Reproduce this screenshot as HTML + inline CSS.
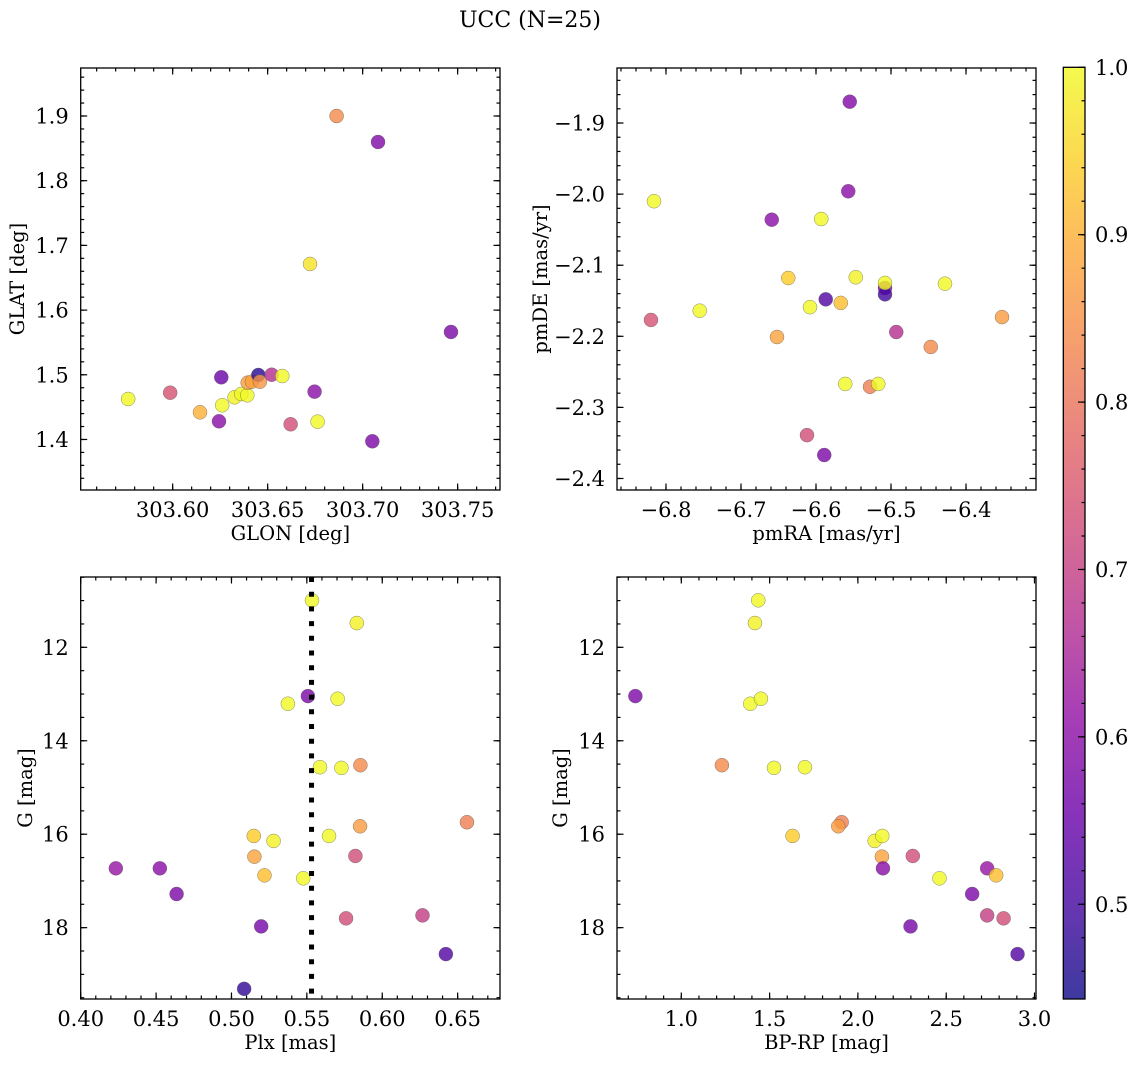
<!DOCTYPE html>
<html><head><meta charset="utf-8"><style>
html,body{margin:0;padding:0;background:#fff;}
svg{display:block;font-family:"DejaVu Serif","Liberation Serif",serif;}
</style></head><body>
<svg id="fig" width="1136" height="1067" viewBox="0 0 1136 1067" xmlns="http://www.w3.org/2000/svg">
<rect width="1136" height="1067" fill="#fff"/>
<text x="530" y="27" font-size="22" text-anchor="middle">UCC (N=25)</text>
</svg>
<script>
// ---- data ----
const glon = [303.5766,303.5987,303.6144,303.6256,303.6244,303.6261,303.6326,303.6361,303.6393,303.6395,303.6417,303.6451,303.6459,303.6521,303.6577,303.6747,303.6621,303.6763,303.7051,303.6863,303.7081,303.6723,303.7465];
const glat = [1.4626,1.4723,1.442,1.4961,1.4281,1.4529,1.4652,1.4703,1.4683,1.4878,1.4893,1.4997,1.4893,1.5001,1.4981,1.4739,1.4235,1.4275,1.3972,1.9,1.8598,1.6713,1.5662];
const probTL = [1.0,0.74,0.90,0.55,0.60,1.0,0.99,1.0,1.0,0.87,0.88,0.47,0.86,0.67,1.0,0.60,0.73,1.0,0.58,0.84,0.59,0.97,0.58];

const pmra = [-6.555,-6.557,-6.816,-6.659,-6.593,-6.637,-6.547,-6.508,-6.508,-6.508,-6.428,-6.587,-6.567,-6.608,-6.755,-6.820,-6.352,-6.652,-6.493,-6.447,-6.561,-6.528,-6.517,-6.612,-6.589];
const pmde = [-1.870,-1.996,-2.010,-2.036,-2.035,-2.118,-2.117,-2.132,-2.141,-2.125,-2.126,-2.148,-2.153,-2.159,-2.164,-2.177,-2.173,-2.201,-2.194,-2.215,-2.267,-2.271,-2.267,-2.339,-2.367];
const probTR = [0.59,0.60,1.0,0.60,1.0,0.94,0.99,0.58,0.50,1.0,1.0,0.52,0.92,1.0,1.0,0.74,0.87,0.88,0.67,0.84,1.0,0.82,1.0,0.73,0.58];

const plx = [0.5534,0.5831,0.5507,0.5374,0.5704,0.5587,0.5729,0.5855,0.6562,0.5853,0.5647,0.5148,0.5279,0.5152,0.5822,0.4233,0.4525,0.5219,0.5476,0.4636,0.5760,0.6267,0.5197,0.6422,0.5084];
const gmagBL = [10.994,11.480,13.044,13.208,13.101,14.566,14.580,14.523,15.744,15.830,16.037,16.037,16.144,16.480,16.466,16.730,16.730,16.880,16.944,17.280,17.801,17.737,17.973,18.566,19.309];
const probBL = [1.0,0.99,0.58,1.0,1.0,1.0,1.0,0.84,0.82,0.87,1.0,0.94,0.99,0.88,0.73,0.62,0.60,0.92,1.0,0.58,0.73,0.70,0.57,0.52,0.48];
const plxLine = [0.5531];

const bprp = [1.436,1.417,0.740,1.391,1.451,1.230,1.525,1.700,1.908,1.889,1.630,2.095,2.138,2.136,2.311,2.142,2.732,2.783,2.462,2.647,2.732,2.825,2.298,2.904];
const gmagBR = [10.994,11.48,13.044,13.208,13.101,14.523,14.58,14.566,15.744,15.83,16.037,16.144,16.037,16.48,16.466,16.73,16.73,16.88,16.944,17.28,17.737,17.801,17.973,18.566];
const probBR = [1.0,0.99,0.58,1.0,1.0,0.84,1.0,1.0,0.82,0.87,0.94,0.99,1.0,0.88,0.73,0.60,0.62,0.92,1.0,0.58,0.70,0.73,0.57,0.52];

const ticksTLx = [303.60,303.65,303.70,303.75];
const labelsTLx = ["303.60","303.65","303.70","303.75"];
const ticksTLy = [1.4,1.5,1.6,1.7,1.8,1.9];
const ticksTRx = [-6.8,-6.7,-6.6,-6.5,-6.4];
const ticksTRy = [-1.9,-2.0,-2.1,-2.2,-2.3,-2.4];
const ticksBLx = [0.40,0.45,0.50,0.55,0.60,0.65];
const ticksGy = [12,14,16,18];
const ticksBRx = [1.0,1.5,2.0,2.5,3.0];
const ticksCbar = [0.5,0.6,0.7,0.8,0.9,1.0];
const cmin = 0.4434, cmax = 1.0;

// ---- helpers ----
const NS = "http://www.w3.org/2000/svg";
const svg = document.getElementById('fig');
const TICKFS = 21, LABFS = 19.5;
function mk(tag, attrs, parent){
  const e = document.createElementNS(NS, tag);
  for (const k in attrs) e.setAttribute(k, attrs[k]);
  (parent||svg).appendChild(e);
  return e;
}
const plasmaStops = [[13,8,135],[65,4,157],[106,0,168],[143,13,164],[177,42,144],[204,71,120],[225,100,98],[242,132,75],[252,166,54],[252,206,37],[240,249,33]];
function plasmaT(t){
  t = Math.max(0,Math.min(1,t));
  const f = t*10, i = Math.min(9, Math.floor(f)), r = f-i;
  const a = plasmaStops[i], b = plasmaStops[i+1];
  return 'rgb('+a.map((x,k)=>Math.round(x+(b[k]-x)*r)).join(',')+')';
}
function plasma(v){ return plasmaT((v-cmin)/(cmax-cmin)); }
function fmt(v, d){ const s = Math.abs(v).toFixed(d); return (v<0?'\u2212':'')+s; }

function panel(cfg){
  const g = mk('g', {});
  
  
  const [x0,x1] = cfg.px, [y0,y1] = cfg.py;
  const sx = v => x0 + (v-cfg.xd[0])/(cfg.xd[1]-cfg.xd[0])*(x1-x0);
  const sy = cfg.invert ? (v => y0 + (v-cfg.yd[0])/(cfg.yd[1]-cfg.yd[0])*(y1-y0))
                        : (v => y1 - (v-cfg.yd[0])/(cfg.yd[1]-cfg.yd[0])*(y1-y0));
  const pg = mk('g', {}, g);
  
  
  for (let i=0;i<cfg.xs.length;i++){
    const c = mk('circle', {cx:sx(cfg.xs[i]), cy:sy(cfg.ys[i]), r:7, fill:plasma(cfg.cs[i]), 'fill-opacity':0.8, stroke:'#555', 'stroke-width':0.5, 'stroke-opacity':0.7}, pg);
    
    
  }
  if (cfg.vline){
    const l = mk('line', {x1:sx(cfg.vline[0]), x2:sx(cfg.vline[0]), y1:y0, y2:y1, stroke:'#000', 'stroke-width':5, 'stroke-dasharray':'5 9.7'}, g);
    
    
  }
  const tk = mk('g', {stroke:'#000','stroke-width':1.2}, g);
  function xt(v, len){ if (v<Math.min(...cfg.xd)-1e-9||v>Math.max(...cfg.xd)+1e-9) return; const x=sx(v);
    mk('line',{x1:x,x2:x,y1:y1,y2:y1-len},tk); mk('line',{x1:x,x2:x,y1:y0,y2:y0+len},tk); }
  function yt(v, len){ const lo=Math.min(...cfg.yd), hi=Math.max(...cfg.yd); if (v<lo-1e-9||v>hi+1e-9) return; const y=sy(v);
    mk('line',{x1:x0,x2:x0+len,y1:y,y2:y},tk); mk('line',{x1:x1,x2:x1-len,y1:y,y2:y},tk); }
  const xlo=Math.min(...cfg.xd), xhi=Math.max(...cfg.xd);
  for (let v=Math.ceil(xlo/cfg.xminor)*cfg.xminor; v<=xhi; v+=cfg.xminor) xt(+v.toFixed(6), 3.5);
  const ylo=Math.min(...cfg.yd), yhi=Math.max(...cfg.yd);
  for (let v=Math.ceil(ylo/cfg.yminor)*cfg.yminor; v<=yhi; v+=cfg.yminor) yt(+v.toFixed(6), 3.5);
  cfg.xt.forEach(v=>xt(v,6.5)); cfg.yt.forEach(v=>yt(v,6.5));
  cfg.xt.forEach((v,i)=>{
    const t = mk('text', {x:sx(v), y:y1+27, 'font-size':TICKFS, 'text-anchor':'middle'}, g);
    t.textContent = cfg.xl ? cfg.xl[i] : fmt(v, cfg.xdec);
    
    
  });
  cfg.yt.forEach(v=>{
    const t = mk('text', {x:x0-12, y:sy(v)+7.5, 'font-size':TICKFS, 'text-anchor':'end'}, g);
    t.textContent = fmt(v, cfg.ydec);
    
    
  });
  const fr = mk('rect', {x:x0, y:y0, width:x1-x0, height:y1-y0, fill:'none', stroke:'#000', 'stroke-width':1.3}, g);
  
  
  const xtl = mk('text', {x:(x0+x1)/2, y:y1+50, 'font-size':LABFS, 'text-anchor':'middle'}, g);
  xtl.textContent = cfg.xlabel;
  
  
  const ytl = mk('text', {x:0, y:0, 'font-size':LABFS, 'text-anchor':'middle', transform:'translate('+cfg.ylx+','+((y0+y1)/2)+') rotate(-90)'}, g);
  ytl.textContent = cfg.ylabel;
  
  
}

panel({name:'glon-glat-panel', px:[80.7,500], py:[68,490], xd:[303.5516,303.7723], yd:[1.3219,1.9742],
  xs:glon, ys:glat, cs:probTL, xt:ticksTLx, xl:labelsTLx, yt:ticksTLy, xminor:0.01, yminor:0.02, xdec:2, ydec:1,
  xlabel:'GLON [deg]', ylabel:'GLAT [deg]', ylx:24});
panel({name:'pm-panel', px:[617,1036], py:[68,490], xd:[-6.8653,-6.3067], yd:[-2.4162,-1.8226],
  xs:pmra, ys:pmde, cs:probTR, xt:ticksTRx, yt:ticksTRy, xminor:0.02, yminor:0.02, xdec:1, ydec:1,
  xlabel:'pmRA [mas/yr]', ylabel:'pmDE [mas/yr]', ylx:547});
panel({name:'plx-g-panel', px:[80.7,500], py:[577,999], xd:[0.40,0.6781], yd:[10.495,19.527], invert:true,
  xs:plx, ys:gmagBL, cs:probBL, xt:ticksBLx, yt:ticksGy, xminor:0.01, yminor:0.5, xdec:2, ydec:0,
  xlabel:'Plx [mas]', ylabel:'G [mag]', ylx:32, vline:plxLine});
panel({name:'cmd-panel', px:[617,1036], py:[577,999], xd:[0.636,3.0085], yd:[10.495,19.527], invert:true,
  xs:bprp, ys:gmagBR, cs:probBR, xt:ticksBRx, yt:ticksGy, xminor:0.1, yminor:0.5, xdec:1, ydec:0,
  xlabel:'BP-RP [mag]', ylabel:'G [mag]', ylx:567});

// ---- colorbar ----
const cb = mk('g', {});


const cbx0=1063.3, cbx1=1085, cby0=67.3, cby1=999;
const cy = v => cby1 - (v-cmin)/(cmax-cmin)*(cby1-cby0);
const defs = mk('defs', {});
const grad = mk('linearGradient', {id:'cbgrad', x1:0, y1:1, x2:0, y2:0}, defs);
for (let i=0;i<=40;i++){ mk('stop', {offset:(i/40), 'stop-color':plasmaT(i/40)}, grad); }
mk('rect', {x:cbx0, y:cby0, width:cbx1-cbx0, height:cby1-cby0, fill:'url(#cbgrad)', 'fill-opacity':0.8}, cb);
const cbt = mk('g', {stroke:'#000','stroke-width':1.2}, cb);
for (let v=0.46; v<=1.0001; v+=0.02){ const y=cy(v); mk('line',{x1:cbx1,x2:cbx1-3.5,y1:y,y2:y},cbt); }
ticksCbar.forEach(v=>{
  const y=cy(v); mk('line',{x1:cbx1,x2:cbx1-7,y1:y,y2:y},cbt);
  const t = mk('text', {x:1095, y:y+7.5, 'font-size':TICKFS}, cb);
  t.textContent = v.toFixed(1);
  
  
});
mk('rect', {x:cbx0, y:cby0, width:cbx1-cbx0, height:cby1-cby0, fill:'none', stroke:'#000', 'stroke-width':1.3}, cb);
</script>
</body></html>
